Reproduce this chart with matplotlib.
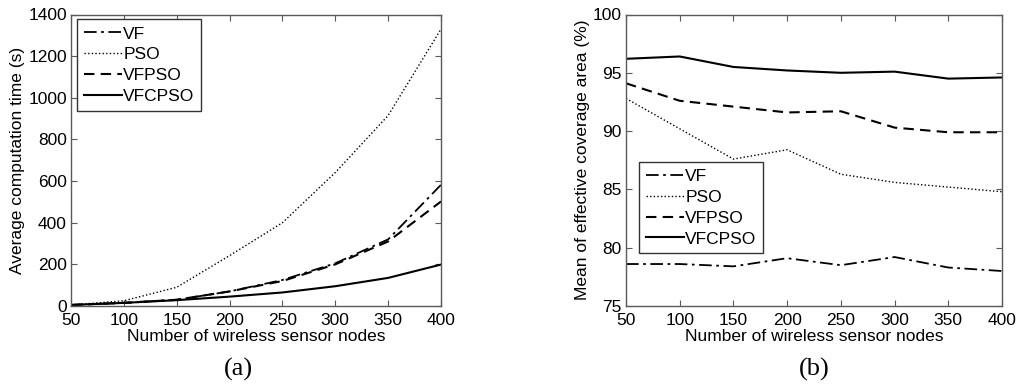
import matplotlib
matplotlib.use("Agg")
import matplotlib.pyplot as plt

# ------------------------------------------------------------------
#  data
# ------------------------------------------------------------------
nodes = [50, 100, 150, 200, 250, 300, 350, 400]

# (a) average computation time (s)
time_vf = [5, 15, 30, 70, 125, 205, 320, 582]
time_pso = [5, 25, 90, 242, 400, 641, 915, 1330]
time_vfpso = [5, 15, 30, 70, 120, 200, 310, 502]
time_vfcpso = [5, 15, 28, 45, 65, 95, 135, 199]

# (b) mean of effective coverage area (%)
cov_vf = [78.6, 78.6, 78.4, 79.1, 78.5, 79.2, 78.3, 78.0]
cov_pso = [92.8, 90.2, 87.6, 88.4, 86.3, 85.6, 85.2, 84.8]
cov_vfpso = [94.1, 92.6, 92.1, 91.6, 91.7, 90.3, 89.9, 89.9]
cov_vfcpso = [96.2, 96.4, 95.5, 95.2, 95.0, 95.1, 94.5, 94.6]

labels = ["VF", "PSO", "VFPSO", "VFCPSO"]
styles = [(0, (7, 2.5, 1.5, 2.5)), (0, (1, 1.6)), (0, (5, 3)), "-"]
widths = [1.3, 1.0, 1.5, 1.5]

plt.rcParams['font.family'] = ['Liberation Sans', 'DejaVu Sans']
plt.rcParams['font.size'] = 12.5

spine_col = "#5a5a5a"


def style_axes(ax):
    for s in ax.spines.values():
        s.set_color(spine_col)
        s.set_linewidth(1.0)
    ax.tick_params(direction="in", top=True, right=True, length=4,
                   color=spine_col, labelsize=12.5)
    ax.tick_params(axis="x", pad=5)
    ax.tick_params(axis="y", pad=3)


def draw(ax, series):
    for y, lab, ls, lw in zip(series, labels, styles, widths):
        ax.plot(nodes, y, color="black", linestyle=ls, linewidth=lw, label=lab)


def legend(ax, anchor):
    leg = ax.legend(loc="upper left", bbox_to_anchor=anchor, fancybox=False,
                    edgecolor="#333333", framealpha=1, handlelength=2.2,
                    handletextpad=0.05, labelspacing=0.32, borderpad=0.4,
                    borderaxespad=0, fontsize=12.5)
    leg.get_frame().set_linewidth(1.0)


fig = plt.figure(figsize=(10.24, 3.91), dpi=100)

ax1 = fig.add_axes([71/1024, 1 - 306/391, 370/1024, 291.5/391])
draw(ax1, [time_vf, time_pso, time_vfpso, time_vfcpso])
ax1.set_xlim(50, 400)
ax1.set_ylim(0, 1400)
ax1.set_xticks(nodes)
ax1.set_yticks(range(0, 1401, 200))
ax1.set_xlabel("Number of wireless sensor nodes", labelpad=1)
ax1.set_ylabel("Average computation time (s)", labelpad=2)
style_axes(ax1)
legend(ax1, (0.017, 0.983))

ax2 = fig.add_axes([626/1024, 1 - 306/391, 376/1024, 291.5/391])
draw(ax2, [cov_vf, cov_pso, cov_vfpso, cov_vfcpso])
ax2.set_xlim(50, 400)
ax2.set_ylim(75, 100)
ax2.set_xticks(nodes)
ax2.set_yticks(range(75, 101, 5))
ax2.set_xlabel("Number of wireless sensor nodes", labelpad=1)
ax2.set_ylabel("Mean of effective coverage area (%)", labelpad=2)
style_axes(ax2)
legend(ax2, (0.035, 0.493))

fig.text(238/1024, 1 - 369/391, "(a)", family=["Liberation Serif", "DejaVu Serif"],
         fontsize=19, ha="center", va="center")
fig.text(814/1024, 1 - 369/391, "(b)", family=["Liberation Serif", "DejaVu Serif"],
         fontsize=19, ha="center", va="center")

fig.savefig("out.png", dpi=100)
